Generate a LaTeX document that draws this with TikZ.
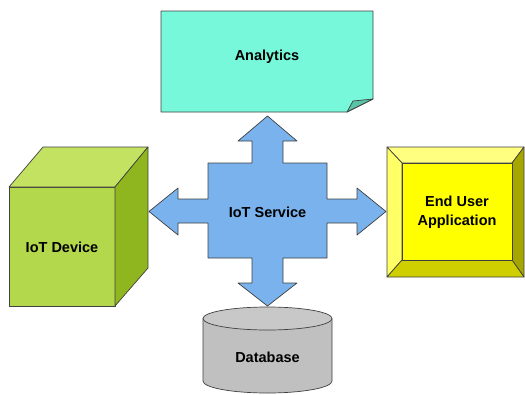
\documentclass[tikz,border=0pt]{standalone}
\usepackage{fontspec}
\setmainfont{Liberation Sans}
\usepackage{xcolor}
\usepackage{tikz}
\usetikzlibrary{positioning, calc}

\definecolor{analyticsfill}{HTML}{77F8DA}
\definecolor{analyticsfold}{HTML}{5BC4A6}
\definecolor{crossfill}{HTML}{79B2EC}
\definecolor{cubefront}{HTML}{B4D84C}
\definecolor{cubetop}{HTML}{C3E262}
\definecolor{cubeside}{HTML}{8FB61E}
\definecolor{bevelin}{HTML}{FFFF00}
\definecolor{beveltop}{HTML}{FFFF80}
\definecolor{bevelleft}{HTML}{FFFF66}
\definecolor{bevelright}{HTML}{A6A600}
\definecolor{bevelbottom}{HTML}{CFCF00}
\definecolor{dbfill}{HTML}{C0C0C0}
\definecolor{dbtop}{HTML}{C8C8C8}

\tikzset{
    outline/.style={draw=black!75, line width=0.7pt, line join=round},
    label/.style={font=\fontsize{14.5}{19.5}\selectfont\bfseries, align=center, text=black}
}

\begin{document}
\begin{tikzpicture}[x=1pt, y=-1pt]
        \useasboundingbox (0,0) rectangle (525,394);

        % Analytics (note with folded corner)
        \draw[outline, fill=analyticsfill] (161,11) -- (373,11) -- (373,99) -- (347,112) -- (161,112) -- cycle;
        \draw[outline, fill=analyticsfold] (347,112) .. controls (350,106) .. (353,101) -- (373,99) -- cycle;
        \node[label] (analytics) at (267,57) {Analytics};

        % IoT Service cross
        \draw[outline, fill=crossfill] (267.5,116) -- (297,141) -- (283,141) -- (283,163) -- (327,163)
            -- (327,199) -- (357,199) -- (357,188) -- (386,211.5) -- (357,235) -- (357,223) -- (327,223)
            -- (327,258) -- (283,258) -- (283,283) -- (297,283) -- (267.5,306) -- (238,283) -- (252,283)
            -- (252,258) -- (208,258) -- (208,223) -- (178,223) -- (178,235) -- (149,211.5) -- (178,188)
            -- (178,199) -- (208,199) -- (208,163) -- (252,163) -- (252,141) -- (238,141) -- cycle;
        \node[label] (service) at (267.5,212) {IoT Service};

        % IoT Device cube
        \draw[outline, fill=cubefront] (9,187) rectangle (115,306);
        \draw[outline, fill=cubetop] (9,187) -- (43,147) -- (148,147) -- (115,187) -- cycle;
        \draw[outline, fill=cubeside] (115,187) -- (148,147) -- (148,268) -- (115,306) -- cycle;
        \node[label] (device) at (62,247) {IoT Device};

        % End User Application (bevel)
        \draw[outline, fill=beveltop] (387,147) -- (524,147) -- (512,163) -- (402,163) -- cycle;
        \draw[outline, fill=bevelleft] (387,147) -- (402,163) -- (402,260) -- (387,277) -- cycle;
        \draw[outline, fill=bevelright] (524,147) -- (524,277) -- (512,260) -- (512,163) -- cycle;
        \draw[outline, fill=bevelbottom] (387,277) -- (402,260) -- (512,260) -- (524,277) -- cycle;
        \draw[outline, fill=bevelin] (402,163) rectangle (512,260);
        \node[label] (enduser) at (457,212) {End User\\Application};

        % Database cylinder
        \draw[outline, fill=dbfill] (203,318.5) -- (203,381) arc[start angle=180, end angle=360, x radius=64.5, y radius=-12]
            -- (332,318.5);
        \draw[outline, fill=dbtop] (267.5,318.5) ellipse[x radius=64.5, y radius=11.5];
        \node[label] (database) at (267.5,357.5) {Database};

\end{tikzpicture}
\end{document}
